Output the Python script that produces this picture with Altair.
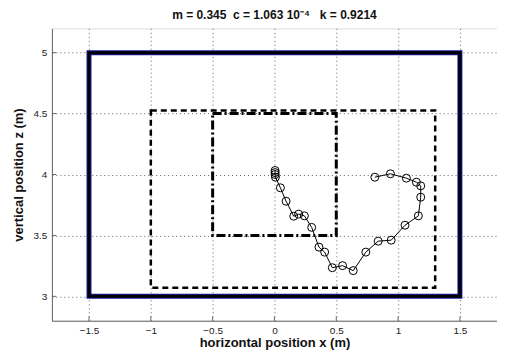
import altair as alt
import pandas as pd

# trajectory (horizontal x, vertical z)
traj_x = [0.005, 0.005, 0.005, 0.008, 0.048, 0.094, 0.156, 0.196, 0.242, 0.301, 0.360, 0.406,
          0.468, 0.551, 0.637, 0.739, 0.839, 0.944, 1.056, 1.164, 1.183, 1.183, 1.148, 1.067,
          0.938, 0.812]
traj_z = [4.033, 4.016, 4.000, 3.978, 3.891, 3.781, 3.658, 3.675, 3.661, 3.566, 3.404, 3.363,
          3.235, 3.252, 3.211, 3.363, 3.453, 3.461, 3.584, 3.661, 3.814, 3.907, 3.937, 3.970,
          4.006, 3.978]

# rectangles: [x0, x1, z0, z1]
room = [-1.5, 1.5, 3.0, 5.0]
dashed_box = [-1.0, 1.3, 3.07, 4.525]
dashdot_box = [-0.5, 0.5, 3.5, 4.5]

x_ticks = [-1.5, -1, -0.5, 0, 0.5, 1, 1.5]
z_ticks = [3, 3.5, 4, 4.5, 5]

title_text = "m = 0.345\u00a0\u00a0c = 1.063 10\u207b\u2074\u00a0\u00a0\u00a0k = 0.9214"

traj = pd.DataFrame({"x": traj_x, "z": traj_z, "i": list(range(len(traj_x)))})

def rect_df(r):
    return pd.DataFrame({"x0": [r[0]], "x1": [r[1]], "z0": [r[2]], "z1": [r[3]]})

XMIN, XMAX, ZMIN, ZMAX = -1.8, 1.8, 2.8, 5.2
xs = alt.Scale(domain=[XMIN, XMAX], nice=False, zero=False)
zs = alt.Scale(domain=[ZMIN, ZMAX], nice=False, zero=False)

axis_common = dict(
    grid=True, gridDash=[1, 3], gridColor="#555555", gridOpacity=0.9, gridWidth=1,
    domainColor="#666666", ticks=False, labelExpr="datum.label",
    labelFont="Liberation Sans", labelFontSize=10, labelColor="#222222",
    titleFont="Liberation Sans", titleFontSize=13, titleFontWeight="bold", titleColor="#111111",
)

xaxis = alt.Axis(values=x_ticks, title="horizontal position x (m)", labelPadding=5,
                 titlePadding=1, format="~g", **axis_common)
yaxis = alt.Axis(values=z_ticks, title="vertical position z (m)", labelPadding=5,
                 titlePadding=8, format="~g", **axis_common)

def rect_layer(r, color, width, dash=None, first=False):
    kw = dict(fillOpacity=0, stroke=color, strokeWidth=width)
    if dash is not None:
        kw["strokeDash"] = dash
    m = alt.Chart(rect_df(r)).mark_rect(**kw)
    if first:
        return m.encode(x=alt.X("x0:Q", scale=xs, axis=xaxis), x2="x1:Q",
                        y=alt.Y("z0:Q", scale=zs, axis=yaxis), y2="z1:Q")
    return m.encode(x=alt.X("x0:Q", scale=xs), x2="x1:Q",
                    y=alt.Y("z0:Q", scale=zs), y2="z1:Q")

room_blue = rect_layer(room, "#1a1aa0", 5, first=True)
room_black = rect_layer(room, "black", 3)
dashed = rect_layer(dashed_box, "black", 2.5, dash=[6, 4])
dashdot = rect_layer(dashdot_box, "black", 3, dash=[9, 3, 2, 3])

# inward tick marks
xt = pd.DataFrame({"x": x_ticks, "z0": [ZMIN] * len(x_ticks), "z1": [ZMIN + 0.035] * len(x_ticks)})
zt = pd.DataFrame({"z": z_ticks, "x0": [XMIN] * len(z_ticks), "x1": [XMIN + 0.035] * len(z_ticks)})
xtick = alt.Chart(xt).mark_rule(color="#666666", strokeWidth=1).encode(
    x=alt.X("x:Q", scale=xs), y=alt.Y("z0:Q", scale=zs), y2="z1:Q")
ztick = alt.Chart(zt).mark_rule(color="#666666", strokeWidth=1).encode(
    y=alt.Y("z:Q", scale=zs), x=alt.X("x0:Q", scale=xs), x2="x1:Q")

line = alt.Chart(traj).mark_line(color="black", strokeWidth=1).encode(
    x=alt.X("x:Q", scale=xs), y=alt.Y("z:Q", scale=zs), order="i:Q")
pts = alt.Chart(traj).mark_point(shape="circle", filled=False, color="black",
                                 strokeWidth=1, size=64, opacity=1).encode(
    x=alt.X("x:Q", scale=xs), y=alt.Y("z:Q", scale=zs))

chart = alt.layer(room_blue, room_black, dashed, dashdot, xtick, ztick, line, pts).properties(
    width=446, height=293,
    title=alt.TitleParams(title_text, font="Liberation Sans", fontSize=12, fontWeight="bold",
                          color="#111111", anchor="middle", offset=6),
    autosize=alt.AutoSizeParams(type="none"),
    padding={"left": 44, "top": 20, "right": 0, "bottom": 40},
).configure_view(stroke=None).configure(background="white")

chart.save("out.html", embed_options={"renderer": "svg", "actions": False})
